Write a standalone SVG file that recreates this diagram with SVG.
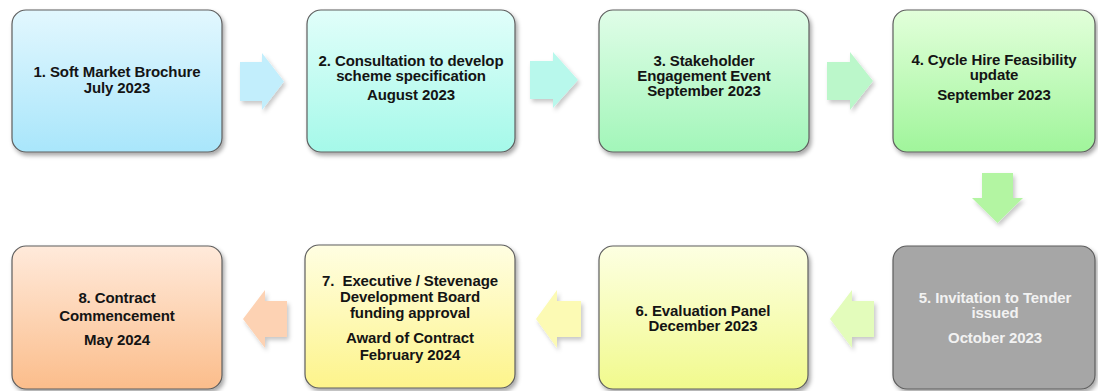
<svg xmlns="http://www.w3.org/2000/svg" width="1098" height="391" viewBox="0 0 1098 391">
  <defs>
    <filter id="shadow" x="-10%" y="-10%" width="125%" height="130%">
      <feDropShadow dx="2" dy="3" stdDeviation="2" flood-color="#000" flood-opacity="0.35"/>
    </filter>
    <filter id="ashadow" x="-20%" y="-20%" width="150%" height="150%">
      <feDropShadow dx="2" dy="3" stdDeviation="2" flood-color="#000" flood-opacity="0.22"/>
    </filter>
    <linearGradient id="g1" x1="0" y1="0" x2="0" y2="1"><stop offset="0" stop-color="#e2f7fe"/><stop offset="1" stop-color="#a9e6fb"/></linearGradient>
    <linearGradient id="g2" x1="0" y1="0" x2="0" y2="1"><stop offset="0" stop-color="#e1fefa"/><stop offset="1" stop-color="#a5f9e9"/></linearGradient>
    <linearGradient id="g3" x1="0" y1="0" x2="0" y2="1"><stop offset="0" stop-color="#e0fde8"/><stop offset="1" stop-color="#a2f6b9"/></linearGradient>
    <linearGradient id="g4" x1="0" y1="0" x2="0" y2="1"><stop offset="0" stop-color="#e2ffda"/><stop offset="1" stop-color="#a0f59b"/></linearGradient>
    <linearGradient id="g6" x1="0" y1="0" x2="0" y2="1"><stop offset="0" stop-color="#fdffe2"/><stop offset="1" stop-color="#f1fa8d"/></linearGradient>
    <linearGradient id="g7" x1="0" y1="0" x2="0" y2="1"><stop offset="0" stop-color="#fffee2"/><stop offset="1" stop-color="#fdf48b"/></linearGradient>
    <linearGradient id="g8" x1="0" y1="0" x2="0" y2="1"><stop offset="0" stop-color="#ffeadb"/><stop offset="1" stop-color="#fbbd8b"/></linearGradient>
  </defs>
  <style>
    .box { stroke: #5e5e5e; stroke-width: 1.2; filter: url(#shadow); }
    .arrow { filter: url(#ashadow); }
    text { font-family: "Liberation Sans", Arial, sans-serif; font-weight: bold; font-size: 15px; letter-spacing: -0.1px; text-anchor: middle; fill: #141414; }
    .light { fill: #f2f2f2; }
  </style>

  <!-- connectors: block arrows between the stages -->
  <g id="connectors">
    <polygon class="arrow" fill="#c2eefc" points="240,62 262,62 262,53 284,81.5 262,110 262,101 240,101"/>
    <polygon class="arrow" fill="#b8f8ec" points="530,61 553,61 553,52 578,80 553,108 553,99 530,99"/>
    <polygon class="arrow" fill="#bbf7ca" points="827,62 850,62 850,52 873,81 850,110 850,100 827,100"/>
    <polygon class="arrow" fill="#b3f5a2" points="982,173 1013,173 1013,198 1023,198 997.5,223 972,198 982,198"/>
    <polygon class="arrow" fill="#e3fcbb" points="874,301 852,301 852,290 830,319 852,348 852,337 874,337"/>
    <polygon class="arrow" fill="#fcfab4" points="581,301 557,301 557,290 536,319 557,348 557,337 581,337"/>
    <polygon class="arrow" fill="#fdd2b3" points="287,301 265,301 265,290 243,319 265,348 265,337 287,337"/>
  </g>

  <!-- stage 1 -->
  <g id="node1">
    <rect class="box" x="12" y="10" width="210" height="142" rx="14" fill="url(#g1)"/>
    <text x="117" y="77">1. Soft Market Brochure</text>
    <text x="117" y="93">July 2023</text>
  </g>

  <!-- stage 2 -->
  <g id="node2">
    <rect class="box" x="307" y="10" width="208" height="142" rx="14" fill="url(#g2)"/>
    <text x="411" y="66">2. Consultation to develop</text>
    <text x="411" y="81">scheme specification</text>
    <text x="411" y="100">August 2023</text>
  </g>

  <!-- stage 3 -->
  <g id="node3">
    <rect class="box" x="599" y="10" width="210" height="142" rx="14" fill="url(#g3)"/>
    <text x="704" y="66">3. Stakeholder</text>
    <text x="704" y="81">Engagement Event</text>
    <text x="704" y="96">September 2023</text>
  </g>

  <!-- stage 4 -->
  <g id="node4">
    <rect class="box" x="893" y="10" width="202" height="142" rx="14" fill="url(#g4)"/>
    <text x="994" y="65">4. Cycle Hire Feasibility</text>
    <text x="994" y="80">update</text>
    <text x="994" y="100">September 2023</text>
  </g>

  <!-- stage 5 -->
  <g id="node5">
    <rect class="box" x="893" y="246" width="202" height="143" rx="14" fill="#a6a6a6"/>
    <text class="light" x="995" y="303">5. Invitation to Tender</text>
    <text class="light" x="995" y="318">issued</text>
    <text class="light" x="995" y="343">October 2023</text>
  </g>

  <!-- stage 6 -->
  <g id="node6">
    <rect class="box" x="599" y="246" width="209" height="143" rx="14" fill="url(#g6)"/>
    <text x="703" y="316">6. Evaluation Panel</text>
    <text x="703" y="331">December 2023</text>
  </g>

  <!-- stage 7 -->
  <g id="node7">
    <rect class="box" x="305" y="245" width="210" height="143" rx="14" fill="url(#g7)"/>
    <text x="410" y="286" xml:space="preserve">7.  Executive / Stevenage</text>
    <text x="410" y="302">Development Board</text>
    <text x="410" y="318">funding approval</text>
    <text x="410" y="343">Award of Contract</text>
    <text x="410" y="360">February 2024</text>
  </g>

  <!-- stage 8 -->
  <g id="node8">
    <rect class="box" x="12" y="246" width="210" height="143" rx="14" fill="url(#g8)"/>
    <text x="117" y="303">8. Contract</text>
    <text x="117" y="321">Commencement</text>
    <text x="117" y="345">May 2024</text>
  </g>
</svg>
